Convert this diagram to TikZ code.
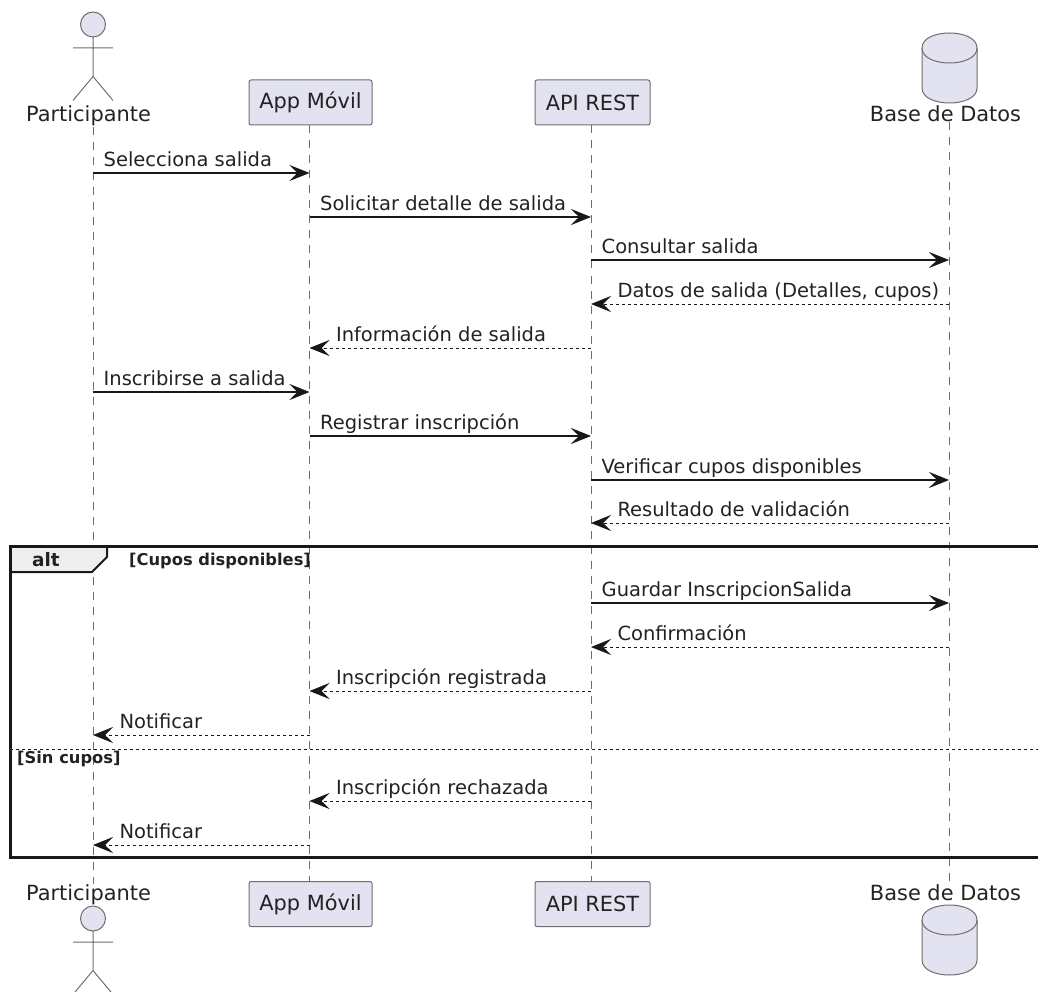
\documentclass[tikz,border=0pt]{standalone}
\usepackage{fontspec}
\setmainfont{DejaVu Sans}
\definecolor{umlfill}{HTML}{E2E2F0}
\definecolor{umlline}{HTML}{181818}
\definecolor{umlgray}{HTML}{6E6E6E}
\definecolor{umltext}{HTML}{222222}
\definecolor{altfill}{HTML}{EEEEEE}
\usetikzlibrary{arrows.meta,positioning,calc}
\tikzset{
  every node/.style={text=umltext, font=\fontsize{19.5}{23}\selectfont},
  partbox/.style={draw=umlgray, fill=umlfill, line width=1pt, rounded corners=2pt, minimum height=45pt, inner sep=0pt, font=\fontsize{20.9}{25}\selectfont},
  partlabel/.style={anchor=base, inner sep=0pt, font=\fontsize{20.9}{25}\selectfont},
  lifeline/.style={umlgray, line width=1pt, dash pattern=on 8pt off 7pt},
  call/.style={umlline, line width=1.3pt, -{Stealth[length=20pt,width=16pt,inset=8pt]}},
  reply/.style={call, line width=1pt, dash pattern=on 3pt off 3pt},
  calltxt/.style={pos=0, anchor=base west, xshift=10pt, yshift=6.5pt, inner sep=0pt},
  replytxt/.style={pos=1, anchor=base west, xshift=26pt, yshift=6.5pt, inner sep=0pt},
  altframe/.style={umlline, line width=3pt},
  guardtxt/.style={anchor=base west, inner sep=0pt, font=\fontsize{16.3}{19}\bfseries\selectfont},
  pics/actorfig/.style={code={
    \draw[umlgray, line width=1pt, fill=umlfill] (0,0) circle (12.5);
    \draw[umlgray, line width=1pt] (0,12.5) -- (0,52) (-20,23.5) -- (20,23.5) (-20,76) -- (0,52) -- (20,76);
  }},
  pics/dbfig/.style={code={
    \draw[umlgray, line width=1pt, fill=umlfill] (-27.5,15) .. controls (-27.5,-5) and (27.5,-5) .. (27.5,15)
      -- (27.5,55) .. controls (27.5,75) and (-27.5,75) .. (-27.5,55) -- cycle;
    \draw[umlgray, line width=1pt] (-27.5,15) .. controls (-27.5,35) and (27.5,35) .. (27.5,15);
  }}
}
\begin{document}
\begin{tikzpicture}[x=1pt, y=-1pt]
  \useasboundingbox (0,0) rectangle (1038,992);
  \clip (0,0) rectangle (1038,992);

  % Participants, top
  \node[partlabel] (partT) at (88.5,122) {Participante};
  \node[partbox, minimum width=123pt] (appT) at (310.5,102.5) {App Móvil};
  \node[partbox, minimum width=115pt] (apiT) at (592.5,102.5) {API REST};
  \node[partlabel] (dbT) at (945.5,122) {Base de Datos};

  % Participants, bottom
  \node[partlabel] (partB) at (88.5,900) {Participante};
  \node[partbox, minimum width=123pt] (appB) at (310.5,904) {App Móvil};
  \node[partbox, minimum width=115pt] (apiB) at (592.5,904) {API REST};
  \node[partlabel] (dbB) at (945.5,900) {Base de Datos};

  % Figures
  \pic at (93,24.5) {actorfig};
  \pic at (93,918.5) {actorfig};
  \pic at (949.5,33) {dbfig};
  \pic at (949.5,905) {dbfig};

  % Lifelines
  \coordinate (part) at (93,0);
  \coordinate (app) at (309.5,0);
  \coordinate (api) at (591,0);
  \coordinate (db) at (949,0);
  \draw[lifeline] (part |- partT.south) -- (part |- partB.north);
  \draw[lifeline] (app |- appT.south) -- (app |- appB.north);
  \draw[lifeline] (api |- apiT.south) -- (api |- apiB.north);
  \draw[lifeline] (db |- dbT.south) -- (db |- dbB.north);

  % Messages
  \draw[call] (part |- 0,173) -- (app |- 0,173) node[calltxt] (msgA) {Selecciona salida};
  \draw[call] (app |- 0,217) -- (api |- 0,217) node[calltxt] (msgB) {Solicitar detalle de salida};
  \draw[call] (api |- 0,260) -- (db |- 0,260) node[calltxt] (msgC) {Consultar salida};
  \draw[reply] (db |- 0,304) -- (api |- 0,304) node[replytxt] (msgD) {Datos de salida (Detalles, cupos)};
  \draw[reply] (api |- 0,348) -- (app |- 0,348) node[replytxt] (msgE) {Información de salida};
  \draw[call] (part |- 0,392) -- (app |- 0,392) node[calltxt] (msgF) {Inscribirse a salida};
  \draw[call] (app |- 0,436) -- (api |- 0,436) node[calltxt] (msgG) {Registrar inscripción};
  \draw[call] (api |- 0,480) -- (db |- 0,480) node[calltxt] (msgH) {Verificar cupos disponibles};
  \draw[reply] (db |- 0,523) -- (api |- 0,523) node[replytxt] (msgI) {Resultado de validación};

  % Alt frame
  \coordinate (altNW) at (10,546);
  \coordinate (altSE) at (1046,857);
  \coordinate (altL) at (10,749);
  \coordinate (altR) at (1046,749);
  \draw[altframe, line width=2pt, fill=altfill] (altNW) -- (107,546) -- (107,557) -- (92,572) -- (10,572) -- cycle;
  \draw[altframe] (altNW) rectangle (altSE);
  \draw[umlline, line width=1pt, dash pattern=on 3pt off 3pt] (altL) -- (altR);
  \node[anchor=base, inner sep=0pt, font=\fontsize{18.5}{22}\bfseries\selectfont] (altTag) at (46,566) {alt};
  \node[guardtxt] (guardA) at (129,565) {[Cupos disponibles]};
  \node[guardtxt] (guardB) at (17,763) {[Sin cupos]};

  % Messages inside alt
  \draw[call] (api |- 0,603) -- (db |- 0,603) node[calltxt] (msgJ) {Guardar InscripcionSalida};
  \draw[reply] (db |- 0,647) -- (api |- 0,647) node[replytxt] (msgK) {Confirmación};
  \draw[reply] (api |- 0,691) -- (app |- 0,691) node[replytxt] (msgL) {Inscripción registrada};
  \draw[reply] (app |- 0,735) -- (part |- 0,735) node[replytxt] (msgM) {Notificar};
  \draw[reply] (api |- 0,801) -- (app |- 0,801) node[replytxt] (msgN) {Inscripción rechazada};
  \draw[reply] (app |- 0,845) -- (part |- 0,845) node[replytxt] (msgO) {Notificar};
\end{tikzpicture}
\end{document}
